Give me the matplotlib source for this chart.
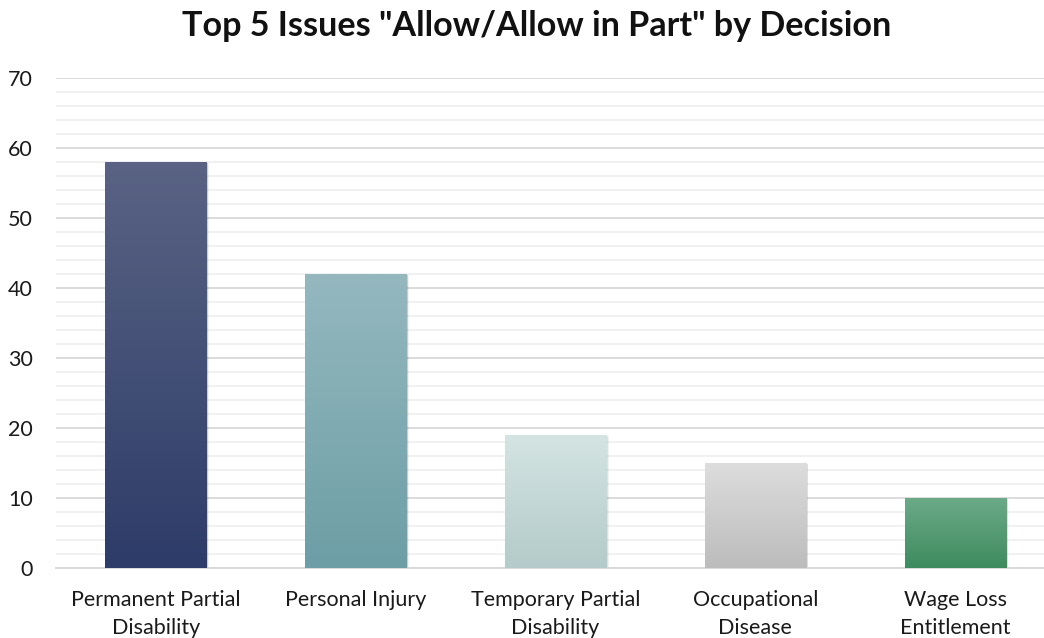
import matplotlib
matplotlib.use("Agg")
import matplotlib.pyplot as plt
import numpy as np
from matplotlib.colors import LinearSegmentedColormap

categories = ["Permanent Partial\nDisability", "Personal Injury", "Temporary Partial\nDisability",
              "Occupational\nDisease", "Wage Loss\nEntitlement"]
values = [58, 42, 19, 15, 10]
top_colors = ["#5a6384", "#95b8bf", "#d4e4e2", "#dddddd", "#6caa88"]
bottom_colors = ["#2d3c68", "#6d9ea5", "#b3cbca", "#bcbcbc", "#3e8b5f"]

plt.rcParams['font.family'] = ['Lato', 'DejaVu Sans']

fig = plt.figure(figsize=(10.44, 6.38), dpi=100)
ax = fig.add_axes([56 / 1044, 1 - 568 / 638, 999 / 1044, 490 / 638])

x = np.arange(len(categories))
width = 0.506
bars = ax.bar(x, values, width=width, color="none", edgecolor="none", zorder=3)

for b, tc, bc in zip(bars, top_colors, bottom_colors):
    x0, y0 = b.get_x(), b.get_y()
    w, h = b.get_width(), b.get_height()
    for k, a in [(0.012, 0.05), (0.008, 0.07), (0.004, 0.09)]:
        sh = plt.Rectangle((x0 - k * 0.3 + 0.004, y0 - 0.2), w + k, h + 0.05, facecolor="#000000",
                           alpha=a, edgecolor="none", zorder=2)
        ax.add_patch(sh)
    cmap = LinearSegmentedColormap.from_list("g", [bc, tc])
    grad = np.linspace(0, 1, 256).reshape(-1, 1)
    im = ax.imshow(grad, cmap=cmap, aspect="auto", origin="lower",
                   extent=[x0, x0 + w, y0, y0 + h], zorder=3)
    im.set_clip_path(b)

ax.set_xlim(-0.5, len(categories) - 0.5)
ax.set_ylim(0, 70)
ax.set_yticks(range(0, 71, 10))
ax.set_yticks(range(0, 71, 2), minor=True)
ax.grid(axis="y", which="major", color="#d9d9d9", linewidth=1.3, zorder=0)
ax.grid(axis="y", which="minor", color="#f0f0f0", linewidth=1.3, zorder=0)
ax.set_axisbelow(True)
for s in ["top", "right", "left"]:
    ax.spines[s].set_visible(False)
ax.spines["bottom"].set_color("#d9d9d9")
ax.spines["bottom"].set_linewidth(1.3)
ax.tick_params(axis="both", which="both", length=0)
ax.tick_params(axis="y", labelsize=15.5, pad=16.5, labelcolor="#1a1a1a")
ax.tick_params(axis="x", labelsize=15.5, pad=15.5, labelcolor="#1a1a1a")
ax.set_xticks(x)
ax.set_xticklabels(categories, linespacing=1.55)

fig.text(537 / 1044, 1 - 26 / 638, 'Top 5 Issues "Allow/Allow in Part" by Decision', fontsize=24.6,
         fontweight="bold", ha="center", va="center", color="#111111")

fig.savefig("out.png", dpi=100)
